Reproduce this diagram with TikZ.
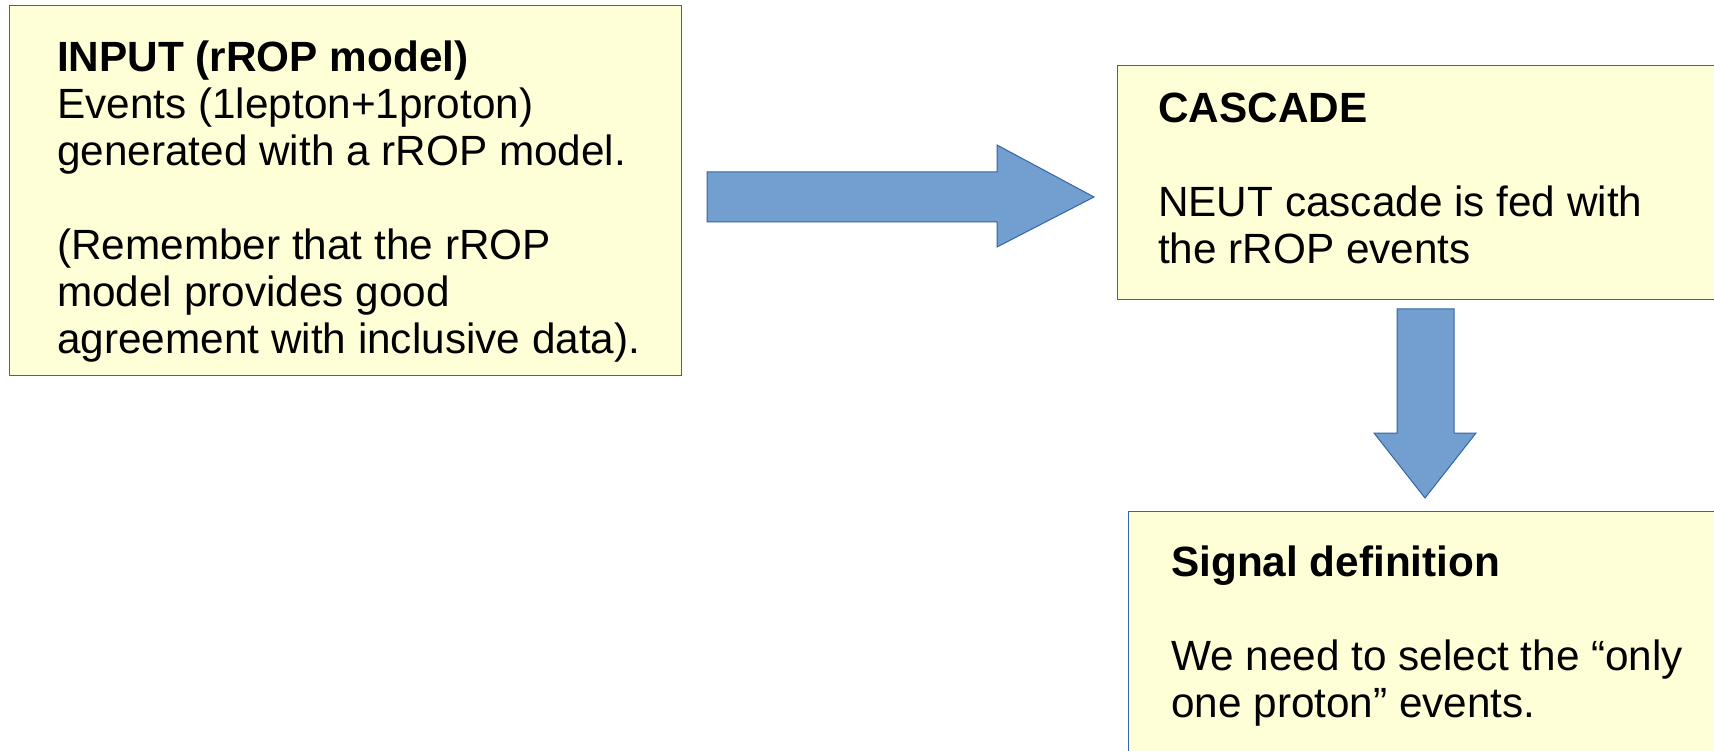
\documentclass[tikz,border=0pt]{standalone}
\usepackage{fontspec}
\setmainfont{Liberation Sans}

\begin{document}
\begin{tikzpicture}[x=1pt, y=-1pt, line join=miter,
    note/.style={draw=boxline, fill=boxfill, line width=1pt, rectangle, inner sep=0pt, anchor=north west},
    notetext/.style={anchor=north west, inner sep=0pt, align=left, font=\fontsize{42.3}{47}\selectfont},
    blockarrow/.style={draw=boxline, fill=arrowfill, line width=1pt}]

  \definecolor{boxfill}{HTML}{FFFFD7}
  \definecolor{boxline}{HTML}{3465A4}
  \definecolor{arrowfill}{HTML}{729FCF}

  %% ---- boxes ----
  \node[note, minimum width=672pt, minimum height=370pt] (input) at (9,5) {};
  \node[note, minimum width=610pt, minimum height=234pt] (cascade) at (1117,65) {};
  \node[note, minimum width=600pt, minimum height=250pt] (signal) at (1128,511) {};

  %% ---- texts (anchor = top of first line, baseline - 30.5) ----
  \node[notetext] (inputtxt) at (57,40.5) {\textbf{INPUT (rROP model)}\\
    Events (1lepton+1proton)\\
    generated with a rROP model.\\
    ~\\
    (Remember that the rROP\\
    model provides good\\
    agreement with inclusive data).};
  \node[notetext] (cascadetxt) at (1158,93) {\textbf{CASCADE}\\
    ~\\
    NEUT cascade is fed with\\
    the rROP events};
  \node[notetext] (signaltxt) at (1171,545.5) {\textbf{Signal definition}\\
    ~\\
    We need to select the “only\\
    one proton” events.};

  %% ---- block arrows ----
  \draw[blockarrow] (707,172) -- (997,172) -- (997,145) -- (1094,197)
    -- (997,247) -- (997,222) -- (707,222) -- cycle;
  \draw[blockarrow] (1397,309) -- (1454,309) -- (1454,433) -- (1476,433)
    -- (1425,498) -- (1374,433) -- (1397,433) -- cycle;

  % fix the canvas to the reference size
  \pgfresetboundingbox
  \path[use as bounding box] (0,0) rectangle (1714,751);
\end{tikzpicture}
\end{document}
